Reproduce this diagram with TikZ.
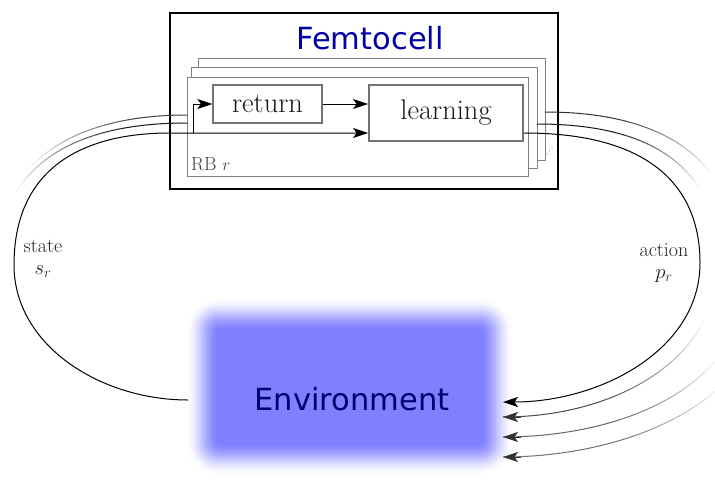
\documentclass[tikz,border=0pt]{standalone}
\usepackage{fontspec}
\usetikzlibrary{arrows.meta,calc}
\newfontfamily\dejavu{DejaVu Sans}
\definecolor{femtoblue}{RGB}{0,0,165}
\definecolor{envtext}{RGB}{0,0,115}
\definecolor{envblue}{RGB}{128,128,255}
\newcommand{\fadebez}[8]{%
  \path #1 .. controls #2 and #3 .. #4
    foreach \i [evaluate=\i as \t using \i/48] in {0,...,48} {coordinate[pos=\t] (fb\i)};
  \foreach \i [evaluate=\i as \t using \i/48] in {0,...,47} {%
    \pgfmathtruncatemacro\j{\i+1}%
    \pgfmathsetmacro\g{\t<#5 ? #7 : max(0,#7*(#6-\t)/(#6-#5))}%
    \ifdim\g pt>0.5pt
      \draw[black!\g, line width=#8, line cap=round] (fb\i) -- (fb\j);
    \fi
  }%
}
\begin{document}
\begin{tikzpicture}[x=1pt,y=-1pt,
  conn/.style={line width=1pt, black},
  tip/.style={-{Stealth[length=15pt,width=10pt,inset=3.5pt]}},
  rbbox/.style={draw=black!50, line width=0.7pt, fill=white, inner sep=0pt},
  blk/.style={draw=black!55, fill=white, inner sep=0pt, text=black!90, font=\fontsize{28.5}{32}\selectfont},
  lbl/.style={align=center, inner sep=0pt, font=\fontsize{20}{22}\selectfont, text=black!85}]
\useasboundingbox (0,0) rectangle (715,480);
\clip (0,0) rectangle (715,480);
% environment (blurred box): nested opaque fills, light outside to full inside
\node[minimum width=277, minimum height=127, inner sep=0pt] (env) at (349.5,386.5) {};
\foreach \e in {26,25,...,-8}{
  \pgfmathsetmacro\xa{211-(\e)}\pgfmathsetmacro\ya{323-(\e)}
  \pgfmathsetmacro\xb{488+(\e)}\pgfmathsetmacro\yb{450+(\e)}
  \pgfmathsetmacro\s{(26-(\e))/34}
  \pgfmathsetmacro\p{100*\s*\s*(3-2*\s)}
  \pgfmathsetmacro\rr{max(1,0.9*(\e+10))}
  \fill[envblue!\p!white, rounded corners=\rr pt] (\xa,\ya) rectangle (\xb,\yb);
}
\node[font=\dejavu\fontsize{30.5}{36}\selectfont, text=envtext, inner sep=0pt] (envlbl) at (352,399) {Environment};
% femtocell
\node[draw=black, line width=1.6pt, fill=white, minimum width=388, minimum height=176, inner sep=0pt] (femto) at (364,101) {};
\node[font=\dejavu\fontsize{30.5}{36}\selectfont, text=femtoblue, inner sep=0pt] (femtolbl) at (370,38) {Femtocell};
\node[rbbox, minimum width=347, minimum height=102] (rb3) at (371.5,109) {};
\node[rbbox, minimum width=346, minimum height=101] (rb2) at (364,117.5) {};
\node[rbbox, minimum width=341, minimum height=99] (rb1) at (357.5,126.5) {};
\node[blk, line width=1.3pt, minimum width=109, minimum height=38] (ret) at (267.5,104) {return};
\node[blk, line width=1.8pt, minimum width=154, minimum height=56] (learn) at (446,113) {learning};
\node[anchor=base west, inner sep=0pt, font=\fontsize{19}{21}\selectfont, text=black!75] (rblbl) at (191,170) {RB $r$};
\foreach \p in {(547,154),(549.5,151),(552,148)} \fill[black!40] \p circle (0.6);
% faded copies
\fadebez{(187,123)}{(80,123)}{(0,160)}{(-4,265)}{0.2}{0.72}{90}{1pt}
\fadebez{(187,115)}{(75,115)}{(-3,160)}{(-8,265)}{0.15}{0.6}{75}{1pt}
\fadebez{(537,124)}{(650,124)}{(715,165)}{(720,260)}{0.25}{0.7}{90}{1pt}
\fadebez{(545,112)}{(665,112)}{(735,160)}{(740,260)}{0.2}{0.65}{80}{1pt}
\fadebez{(503,417)}{(615,417)}{(718,360)}{(718,262)}{0.3}{0.78}{70}{1pt}
\fadebez{(503,437)}{(625,437)}{(745,385)}{(745,280)}{0.3}{0.72}{60}{1pt}
\fadebez{(503,457)}{(630,457)}{(760,400)}{(760,300)}{0.3}{0.68}{55}{1pt}
\coordinate (a2) at (503,417);
\coordinate (a3) at (503,437);
\coordinate (a4) at (503,457);
\draw[tip, black!80, line width=1pt] ($(a2)+(18,0)$) -- (a2);
\draw[tip, black!80, line width=1pt] ($(a3)+(18,0)$) -- (a3);
\draw[tip, black!80, line width=1pt] ($(a4)+(18,0)$) -- (a4);
% main connectors
\coordinate (lowY) at (0,133);
\coordinate (stA) at (188,400);
\coordinate (stL) at (14,265);
\coordinate (stT) at (170,133);
\coordinate (brk) at (193,133);
\draw[conn,tip] (stA) .. controls (100,400) and (14,345) .. (stL) .. controls (14,170) and (80,133) .. (stT) -- (learn.west |- lowY);
\draw[conn,tip] (brk) |- (ret.west);
\draw[conn,tip] (ret.east) -- (ret.east -| learn.west);
\coordinate (acR) at (700,263);
\coordinate (acE) at (503,402);
\draw[conn,tip] (learn.east |- lowY) .. controls (660,133) and (700,195) .. (acR) .. controls (700,350) and (600,402) .. (acE);
% labels
\node[lbl] (stlbl) at (43,259) {state\\$s_r$};
\node[lbl] (aclbl) at (664,263) {action\\$p_r$};
\end{tikzpicture}
\end{document}
